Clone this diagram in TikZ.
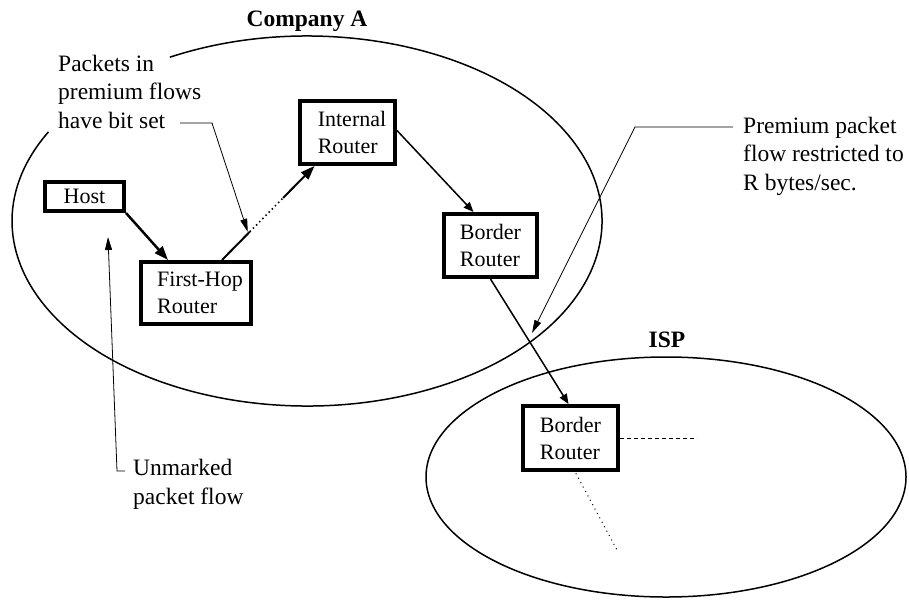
\documentclass[tikz,border=0pt]{standalone}
\usepackage{fontspec}
\setmainfont{Liberation Serif}
\usetikzlibrary{arrows.meta,calc}
\begin{document}
\begin{tikzpicture}[x=1pt,y=-1pt,
  box/.style={draw,line width=4pt,align=left,inner sep=0pt,font=\fontsize{22}{27}\selectfont},
  note/.style={align=left,inner sep=0pt,anchor=base west,font=\fontsize{23.5}{28.5}\selectfont},
  title/.style={inner sep=0pt,anchor=base,font=\fontsize{23.5}{28}\selectfont\bfseries},
  region/.style={line width=1.5pt},
  flow/.style={-{Triangle[length=14pt,width=10pt]}},
  smallflow/.style={line width=1.5pt,-{Triangle[length=10pt,width=8pt]}},
  callout/.style={line width=0.8pt,-{Triangle[length=13pt,width=7pt]}},
]
\useasboundingbox (0,0) rectangle (909,600);

% regions
\draw[region] ([shift={(117.7:295pt and 185pt)}]307,221)
  arc[start angle=117.7,end angle=-208.8,x radius=295pt,y radius=185pt];
\draw[region] (666,477) ellipse [x radius=240pt, y radius=120pt];

\node[title] (ca) at (307,26) {Company A};
\node[title] (isp) at (667,347) {ISP};

% routers and host
\node[box,minimum width=79pt,minimum height=29pt] (host) at (84.5,196.5) {Host};
\node[box,minimum width=110pt,minimum height=62pt] (fh) at (196,293) {\hspace*{8pt}First-Hop\\\hspace*{8pt}Router};
\node[box,minimum width=95pt,minimum height=63pt] (ir) at (347.5,132.5) {\hspace*{9pt}Internal\\\hspace*{9pt}Router};
\node[box,minimum width=93pt,minimum height=63pt] (ba) at (490.5,245.5) {Border\\Router};
\node[box,minimum width=95pt,minimum height=64pt] (ib) at (570.5,438) {Border\\Router};

% flows
\draw[line width=2.5pt,flow] (host.south east) -- ([xshift=-28pt]fh.north);

\coordinate (s) at ([xshift=26pt]fh.north);
\coordinate (e) at ([xshift=-33pt]ir.south);
\coordinate (d1) at ($(s)!0.30!(e)$);
\coordinate (d2) at ($(s)!0.66!(e)$);
\draw[line width=2pt] (s) -- (d1);
\draw[line width=1.5pt,dash pattern=on 1.5pt off 3pt] (d1) -- (d2);
\draw[line width=2pt,flow] (d2) -- (e);

\draw[smallflow] ([yshift=2pt]ir.east) -- ([xshift=-17pt]ba.north);
\draw[smallflow] (ba.south) -- ([xshift=-2pt]ib.north);

\coordinate (ibr) at (697,438);
\draw[line width=1pt,dash pattern=on 4pt off 3pt] (ib.east) -- (ibr);
\coordinate (ibd) at (617,550);
\draw[line width=1pt,dash pattern=on 1pt off 4pt] ([xshift=3pt,yshift=3pt]ib.south) -- (ibd);

% annotations (base anchor = baseline of the last line)
\node[note] (n1) at (58,128) {Packets in\\premium flows\\have bit set};
\node[note] (n2) at (743,190) {Premium packet\\flow restricted to\\R bytes/sec.};
\node[note] (n3) at (133,504) {Unmarked\\packet flow};

\coordinate (c1) at (180,123);
\coordinate (k1) at (212,123);
\draw[callout] (c1) -- (k1) -- ([xshift=-2pt]d1);

\coordinate (c2) at (733,127);
\coordinate (k2) at (635,127);
\coordinate (t2) at (532,333);
\draw[callout] (c2) -- (k2) -- (t2);

\coordinate (c3) at (125,471);
\coordinate (k3) at (117,471);
\coordinate (t3) at (108,237);
\draw[callout] (c3) -- (k3) -- (t3);
\end{tikzpicture}
\end{document}
